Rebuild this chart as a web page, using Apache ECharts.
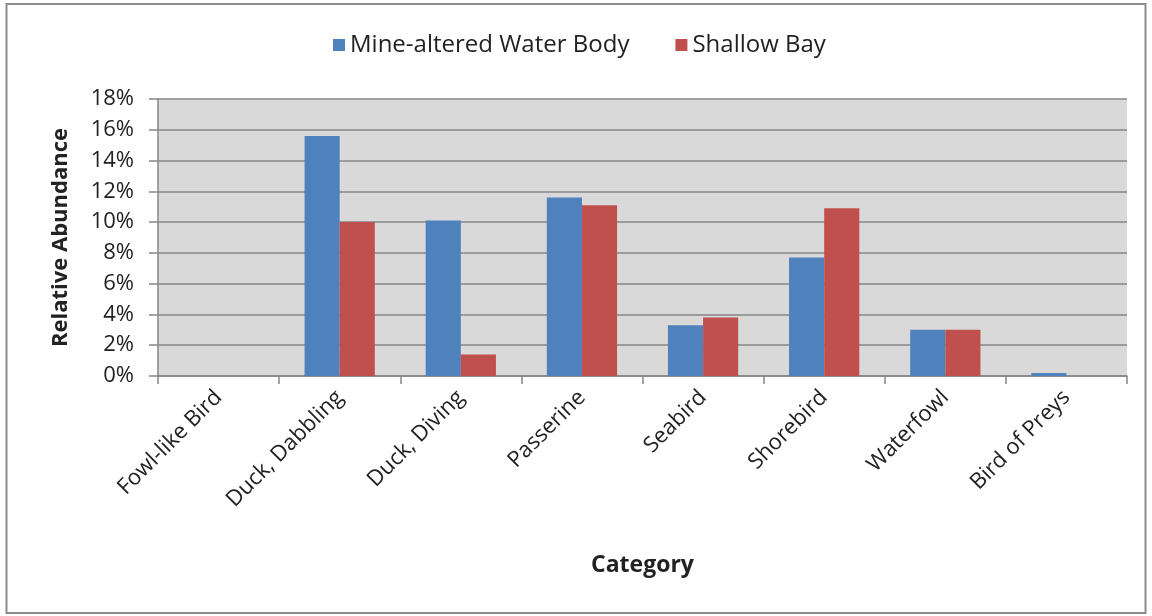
<!DOCTYPE html>
<html>
<head>
<meta charset="utf-8">
<script src="https://cdn.jsdelivr.net/npm/echarts@6/dist/echarts.min.js"></script>
<style>
html,body{margin:0;padding:0;background:#fff;}
#c{width:1152px;height:616px;}
</style>
</head>
<body>
<div id="c"></div>
<script>
const categories = ['Fowl-like Bird','Duck, Dabbling','Duck, Diving','Passerine','Seabird','Shorebird','Waterfowl','Bird of Preys'];
const mineAltered = [0, 15.6, 10.1, 11.6, 3.3, 7.7, 3.0, 0.2];
const shallowBay = [0, 10.0, 1.4, 11.1, 3.8, 10.9, 3.0, 0];
const seriesNames = ['Mine-altered Water Body','Shallow Bay'];
const yTicks = {min:0, max:18, interval:2};

const FONT = '"Open Sans", Lato, sans-serif';
const chart = echarts.init(document.getElementById('c'), null, {renderer:'canvas'});
chart.setOption({
  animation:false,
  backgroundColor:'#fff',
  textStyle:{fontFamily:FONT},
  graphic:[{type:'rect', shape:{x:6.5,y:4,width:1139,height:609}, style:{fill:'none',stroke:'#8c8c8c',lineWidth:2}, z:-1}],
  legend:{
    top:28, left:328, itemGap:46, itemWidth:12, itemHeight:12,
    icon:'rect',
    textStyle:{fontFamily:FONT,fontSize:24,color:'#222'},
    data:seriesNames
  },
  grid:{left:158,right:25,top:99,bottom:240,backgroundColor:'#d9d9d9',show:true,borderWidth:0},
  xAxis:{
    type:'category', data:categories,
    name:'Category', nameLocation:'middle', nameGap:178,
    nameTextStyle:{fontFamily:FONT,fontSize:23,fontWeight:'bold',color:'#222'},
    axisLine:{lineStyle:{color:'#868686',width:1.5}},
    axisTick:{show:true,length:8,lineStyle:{color:'#868686',width:1.5}},
    axisLabel:{rotate:45,margin:18,fontFamily:FONT,fontSize:22,color:'#222'}
  },
  yAxis:{
    type:'value', min:yTicks.min, max:yTicks.max, interval:yTicks.interval,
    name:'Relative Abundance', nameLocation:'middle', nameGap:86,
    nameTextStyle:{fontFamily:FONT,fontSize:22,fontWeight:'bold',color:'#222'},
    axisLine:{show:true,lineStyle:{color:'#868686',width:1.5}},
    axisTick:{show:true,length:9,lineStyle:{color:'#868686',width:1.5}},
    axisLabel:{formatter:'{value}%',margin:24,fontFamily:FONT,fontSize:22,color:'#222'},
    splitLine:{lineStyle:{color:'#868686',width:1.5}}
  },
  series:[
    {name:seriesNames[0],type:'bar',data:mineAltered,barGap:'0%',barCategoryGap:'42%',itemStyle:{color:'#4f81bd'}},
    {name:seriesNames[1],type:'bar',data:shallowBay,itemStyle:{color:'#c0504d'}}
  ]
});
</script>
</body>
</html>
